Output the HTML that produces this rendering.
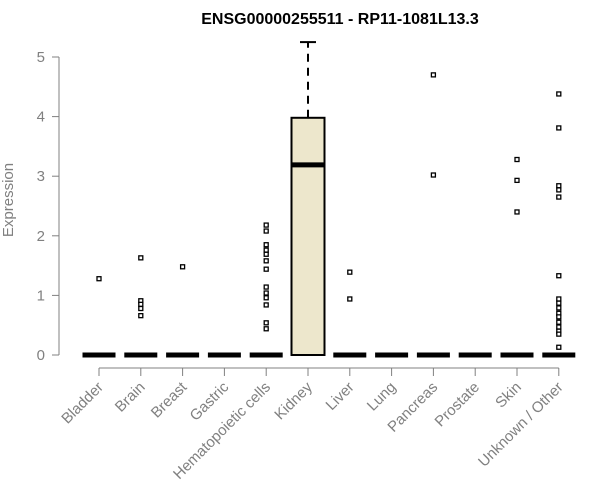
<!DOCTYPE html>
<html><head><meta charset="utf-8"><style>
body{margin:0;background:#fff}
svg{display:block;font-family:"Liberation Sans",Arial,sans-serif}
</style></head><body>
<svg id="c" width="600" height="500" xmlns="http://www.w3.org/2000/svg">
<text x="340" y="24" text-anchor="middle" font-weight="bold" font-size="16">ENSG00000255511 - RP11-1081L13.3</text>
<text transform="translate(13,200) rotate(-90)" text-anchor="middle" font-size="15" fill="#808080">Expression</text>
<g id="axes"></g><g id="marks"></g>
</svg>
<script>
const categories=["Bladder","Brain","Breast","Gastric","Hematopoietic cells","Kidney","Liver","Lung","Pancreas","Prostate","Skin","Unknown / Other"];
const q1=[0,0,0,0,0,0,0,0,0,0,0,0];
const medians=[0,0,0,0,0,3.19,0,0,0,0,0,0];
const q3=[0,0,0,0,0,3.98,0,0,0,0,0,0];
const whiskerHigh=[0,0,0,0,0,5.25,0,0,0,0,0,0];
const outliers=[[1.28],[1.63,0.91,0.85,0.78,0.66],[1.48],[],[2.18,2.08,1.85,1.76,1.69,1.58,1.44,1.14,1.04,0.96,0.84,0.54,0.44],[],[1.39,0.94],[],[4.7,3.02],[],[3.28,2.93,2.4],[4.38,3.81,2.84,2.77,2.65,1.33,0.94,0.87,0.79,0.70,0.64,0.55,0.47,0.40,0.35,0.13]];
const yTicks=[0,1,2,3,4,5];
const NS="http://www.w3.org/2000/svg";
const y=v=>355-v*59.6;
const x=i=>99+i*41.8;
function mk(tag,attrs,parent){const e=document.createElementNS(NS,tag);for(const k in attrs)e.setAttribute(k,attrs[k]);parent.appendChild(e);return e;}
const ax=document.getElementById('axes'),mg=document.getElementById('marks');
let l=mk('line',{x1:59,x2:59,y1:y(0),y2:y(5),stroke:'#808080'},ax);


yTicks.forEach(t=>{
 let tk=mk('line',{x1:52,x2:59,y1:y(t),y2:y(t),stroke:'#808080'},ax);
 
 
 let tx=mk('text',{x:45,y:y(t)+5,'text-anchor':'end','font-size':15,fill:'#808080'},ax);
 tx.textContent=t;
 
 
});
let xl=mk('line',{x1:x(0),x2:x(categories.length-1),y1:368,y2:368,stroke:'#808080'},ax);


categories.forEach((c,i)=>{
 let tk=mk('line',{x1:x(i),x2:x(i),y1:368,y2:376,stroke:'#808080'},ax);
 
 
 let tx=mk('text',{transform:`translate(${x(i)+5},${388}) rotate(-45)`,'text-anchor':'end','font-size':15,fill:'#808080'},ax);
 tx.textContent=c;
 
 
 const g=mk('g',{},mg);
 
 
 const x0=x(i)-16.5,w=33;
 if(whiskerHigh[i]>q3[i]){
  mk('line',{x1:x(i),x2:x(i),y1:y(q3[i]),y2:y(whiskerHigh[i]),stroke:'#000','stroke-width':2,'stroke-dasharray':'8,6'},g);
  mk('line',{x1:x(i)-8,x2:x(i)+8,y1:y(whiskerHigh[i]),y2:y(whiskerHigh[i]),stroke:'#000','stroke-width':2},g);
 }
 if(q3[i]>q1[i]) mk('rect',{x:x0,y:y(q3[i]),width:w,height:y(q1[i])-y(q3[i]),fill:'#ede7cc',stroke:'#000','stroke-width':2},g);
 mk('line',{x1:x0,x2:x0+w,y1:y(medians[i]),y2:y(medians[i]),stroke:'#000','stroke-width':5},g);
 outliers[i].forEach(v=>{
  let p=mk('rect',{x:x(i)-2,y:y(v)-2,width:4,height:4,fill:'#fff',stroke:'#000','stroke-width':1.3},g);
  
  
 });
});
</script>
</body></html>
